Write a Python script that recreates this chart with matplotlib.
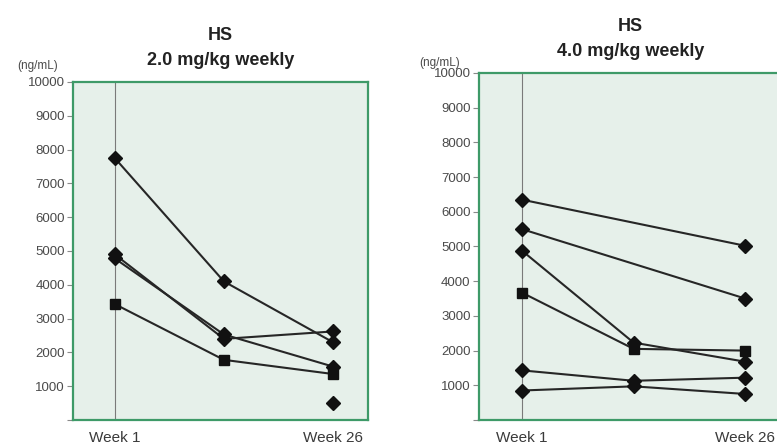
import matplotlib
matplotlib.use('Agg')
import matplotlib.pyplot as plt
import numpy as np

plt.rcParams['font.family'] = ['Liberation Sans', 'DejaVu Sans']

# visit positions: Week 1, interim (unlabelled), Week 26
visits = [0, 1, 2]
visit_labels = ['Week 1', '', 'Week 26']
nan = np.nan

# HS 2.0 mg/kg weekly (ng/mL)
low_series = [
    ([7750, 4100, 2300], 'D'),
    ([4900, 2400, 2620], 'D'),
    ([4780, 2530, 1580], 'D'),
    ([3430, 1780, 1360], 's'),
    ([nan, nan, 500], 'D'),
]

# HS 4.0 mg/kg weekly (ng/mL)
high_series = [
    ([6350, nan, 5020], 'D'),
    ([5500, nan, 3500], 'D'),
    ([4880, 2230, 1680], 'D'),
    ([3670, 2050, 2000], 's'),
    ([1430, 1130, 1220], 'D'),
    ([850, 970, 750], 'D'),
]

yticks = list(range(0, 10001, 1000))
ytick_labels = [''] + [str(v) for v in yticks[1:]]

green = '#3e9a68'
face = '#e6f0ea'


def draw_panel(ax, series, title, xlim):
    ax.set_facecolor(face)
    for s in ax.spines.values():
        s.set_color(green)
        s.set_linewidth(1.6)
    ax.axvline(visits[0], color='#7a7a7a', lw=0.8, zorder=1)
    x = np.array(visits, dtype=float)
    for vals, mk in series:
        y = np.array(vals, dtype=float)
        ok = ~np.isnan(y)
        ms = 7 if mk == 's' else 7
        ax.plot(x[ok], y[ok], color='#262626', lw=1.5, marker=mk,
                ms=ms, mfc='#111111', mec='#111111', zorder=3)
    ax.set_xlim(*xlim)
    ax.set_ylim(0, 10000)
    ax.set_yticks(yticks)
    ax.set_yticklabels(ytick_labels)
    ax.set_xticks([visits[0], visits[2]])
    ax.set_xticklabels([visit_labels[0], visit_labels[2]])
    ax.tick_params(axis='y', colors='#8a8a8a', labelcolor='#4a4a4a',
                   labelsize=9.5, length=4, width=0.8, pad=2)
    ax.tick_params(axis='x', length=0, labelsize=11, labelcolor='#3a3a3a', pad=8)
    ax.set_title(title, fontsize=13, fontweight='bold', color='#222222',
                 linespacing=1.65, pad=12)


fig = plt.figure(figsize=(7.77, 4.47), dpi=100)
ax1 = fig.add_axes([0.094, 0.0604, 0.3796, 0.7562])
ax2 = fig.add_axes([0.6165, 0.0604, 0.39, 0.7763])

draw_panel(ax1, low_series, 'HS\n2.0 mg/kg weekly', (-0.382, 2.32))
draw_panel(ax2, high_series, 'HS\n4.0 mg/kg weekly', (-0.385, 2.33))

fig.text(0.049, 0.853, '(ng/mL)', fontsize=8.5, color='#4a4a4a',
         ha='center', va='center')
fig.text(0.566, 0.859, '(ng/mL)', fontsize=8.5, color='#4a4a4a',
         ha='center', va='center')

fig.savefig('out.png', dpi=100)
plt.close(fig)
